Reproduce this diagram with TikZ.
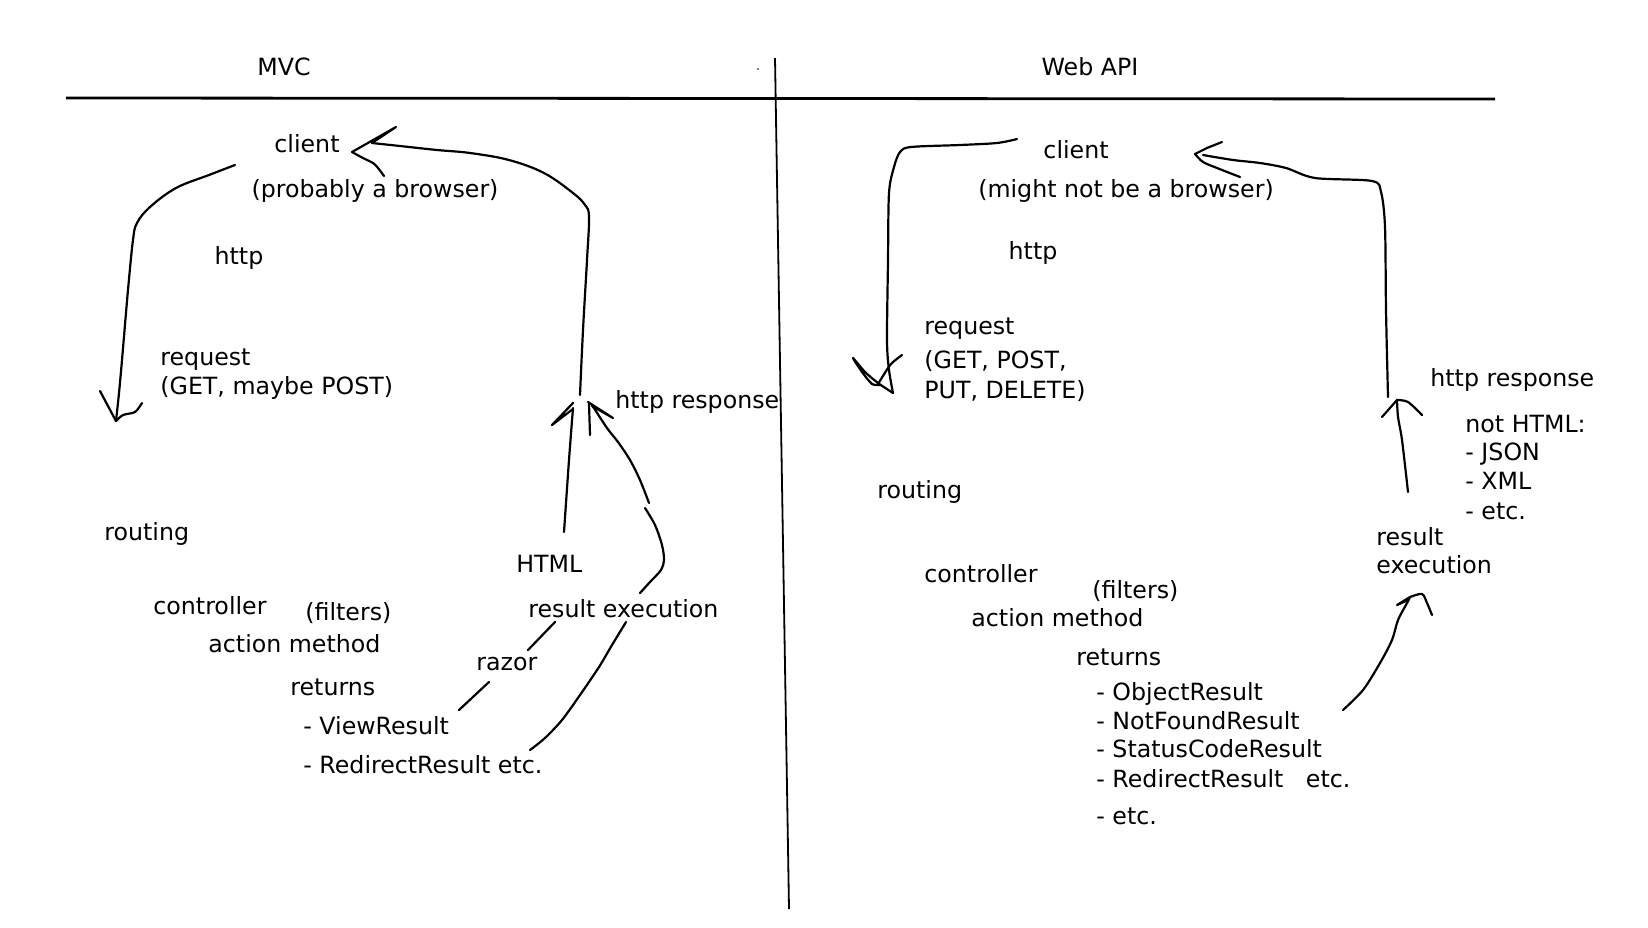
\documentclass[tikz,border=0pt]{standalone}
\usepackage{fontspec}
\setmainfont{DejaVu Sans}
\begin{document}
\begin{tikzpicture}[x=0.5pt,y=-0.5pt,
  pen/.style={line width=1.1pt, line cap=round, line join=round},
  lbl/.style={anchor=west, inner sep=0pt, text height=8.3pt, text depth=0pt, font=\fontsize{11.85}{14}\selectfont},
  ctr/.style={lbl, anchor=center}]
\useasboundingbox[fill=white] (0,0) rectangle (1648,927);

% header
\node[ctr] (mvc) at (284,67) {MVC};
\node[ctr] (webapi) at (1090,67) {Web API};
\fill (758,69) circle (0.8);
\coordinate (hl) at (66,98);
\coordinate (hr) at (1495,99);
\draw[line width=1.4pt] (hl) -- (hr);
\coordinate (vt) at (775,58);
\coordinate (vb) at (789,909);
\draw[line width=0.9pt] (vt) -- (vb);

% ---------------- MVC side ----------------
\node[ctr] (lclient) at (307,144) {client};
\node[ctr] (lbrowser) at (375,189) {(probably a browser)};
\node[ctr] (lhttp) at (239,256) {http};
\node[lbl] (lreq) at (160,357) {request};
\node[lbl] (lget) at (160,386) {(GET, maybe POST)};
\node[lbl] (lrouting) at (104,532) {routing};
\node[lbl] (lctrl) at (153,606) {controller};
\node[lbl] (lfilt) at (305,612) {(filters)};
\node[lbl] (laction) at (208,644) {action method};
\node[lbl] (lret) at (290,687) {returns};
\node[lbl] (lview) at (303,726) {- ViewResult};
\node[lbl] (lredir) at (303,765) {- RedirectResult etc.};
\node[lbl] (lhtml) at (516,564) {HTML};
\node[lbl] (lresex) at (528,609) {result execution};
\node[lbl] (lrazor) at (476,662) {razor};
\node[lbl] (lresp) at (615,400) {http response};

% request arrow
\coordinate (lqs) at (235,165);
\coordinate (lqt) at (116,421);
\draw[pen] plot[smooth, tension=0.6] coordinates {(lqs) (209,175) (176,188) (150,207) (137,223) (133,240) (128,290) (122,360) (119,393) (lqt)};
\draw[pen] (lqt) -- (100,391);
\draw[pen] plot[smooth] coordinates {(lqt) (123,415) (135,412) (142,403)};

% response arrow to client
\coordinate (lps) at (580,395);
\coordinate (lpt) at (352,152);
\draw[pen] plot[smooth, tension=0.6] coordinates {(lps) (583,330) (587,260) (589,217) (585,205) (573,193) (544,173) (509,160) (470,153) (437,150) (400,146) (372,143)};
\draw[pen] (372,143) -- (396,127) -- (lpt);
\draw[pen] plot[smooth] coordinates {(lpt) (363,158) (373,163) (378,168) (384,176)};

% HTML arrow
\coordinate (lhb) at (564,532);
\coordinate (lha) at (573,403);
\draw[pen] plot[smooth] coordinates {(lhb) (569,460) (573,408)};
\draw[pen] (573,409) -- (552,425) -- (lha);

% result execution arrow (curve) to http response
\coordinate (lbt) at (588,402);
\draw[pen] (589,404) -- (590,435);
\draw[pen] (lbt) -- (613,418) -- (592,406);
\draw[pen] plot[smooth] coordinates {(592,405) (607,428) (618,442) (630,460) (640,480) (649,503)};
\draw[pen] plot[smooth] coordinates {(645,508) (655,525) (662,545) (664,560) (661,570) (650,582) (640,593)};
\coordinate (lrs) at (530,750);
\draw[pen] plot[smooth] coordinates {(626,622) (612,645) (599,667) (580,695) (562,720) (545,738) (lrs)};

% razor
\draw[pen] (459,710) -- (489,682);
\draw[pen] (528,650) -- (555,622);

% ---------------- Web API side ----------------
\node[ctr] (rclient) at (1076,150) {client};
\node[ctr] (rbrowser) at (1126,189) {(might not be a browser)};
\node[ctr] (rhttp) at (1033,251) {http};
\node[lbl] (rreq) at (924,326) {request};
\node[lbl] (rget) at (924,360) {(GET, POST,};
\node[lbl] (rput) at (924,390) {PUT, DELETE)};
\node[lbl] (rrouting) at (877,490) {routing};
\node[lbl] (rctrl) at (924,574) {controller};
\node[lbl] (rfilt) at (1092,590) {(filters)};
\node[lbl] (raction) at (971,618) {action method};
\node[lbl] (rret) at (1076,657) {returns};
\node[lbl] (robj) at (1096,692) {- ObjectResult};
\node[lbl] (rnf) at (1096,721) {- NotFoundResult};
\node[lbl] (rsc) at (1096,749) {- StatusCodeResult};
\node[lbl] (rrd) at (1096,779) {- RedirectResult\hspace{0.95em}etc.};
\node[lbl] (retc) at (1096,816) {- etc.};
\node[lbl] (rresp) at (1430,378) {http response};
\node[lbl] (rnot) at (1465,424) {not HTML:};
\node[lbl] (rjson) at (1465,452) {- JSON};
\node[lbl] (rxml) at (1465,481) {- XML};
\node[lbl] (retc2) at (1465,511) {- etc.};
\node[lbl] (rres) at (1376,537) {result};
\node[lbl] (rexe) at (1376,565) {execution};

% request arrow
\coordinate (rqs) at (1017,139);
\coordinate (rqt) at (893,393);
\draw[pen] plot[smooth, tension=0.5] coordinates {(rqs) (997,143) (960,145) (911,147) (900,152) (894,167) (889,193) (888,260) (887,340) (889,370) (rqt)};
\draw[pen] plot[smooth, tension=0.4] coordinates {(rqt) (878,383) (865,372) (853,358) (862,372) (872,384) (880,385)};
\draw[pen] plot[smooth, tension=0.5] coordinates {(878,384) (888,368) (893,362) (902,355)};

% response arrow to client
\coordinate (rps) at (1388,397);
\coordinate (rpt) at (1195,154);
\draw[pen] plot[smooth, tension=0.5] coordinates {(rps) (1386,310) (1385,227) (1381,192) (1372,181) (1315,178) (1286,168) (1260,163) (1233,160) (1203,155)};
\draw[pen] (rpt) -- (1207,148) -- (1222,142);
\draw[pen] plot[smooth] coordinates {(rpt) (1203,162) (1217,168) (1240,177)};

% result execution -> http response
\coordinate (rus) at (1408,492);
\coordinate (rut) at (1397,400);
\draw[pen] plot[smooth] coordinates {(rus) (1402,440) (1398,417) (rut)};
\draw[pen] (rut) -- (1382,417);
\draw[pen] plot[smooth] coordinates {(rut) (1408,402) (1422,415)};

% NotFoundResult -> result execution
\coordinate (rcs) at (1343,710);
\coordinate (rct) at (1410,597);
\draw[pen] plot[smooth] coordinates {(rcs) (1363,690) (1380,663) (1392,640) (1398,620) (1407,603) (rct)};
\draw[pen] (rct) -- (1397,605) -- (1408,600);
\draw[pen] plot[smooth] coordinates {(rct) (1422,594) (1427,603) (1432,615)};
\end{tikzpicture}
\end{document}
